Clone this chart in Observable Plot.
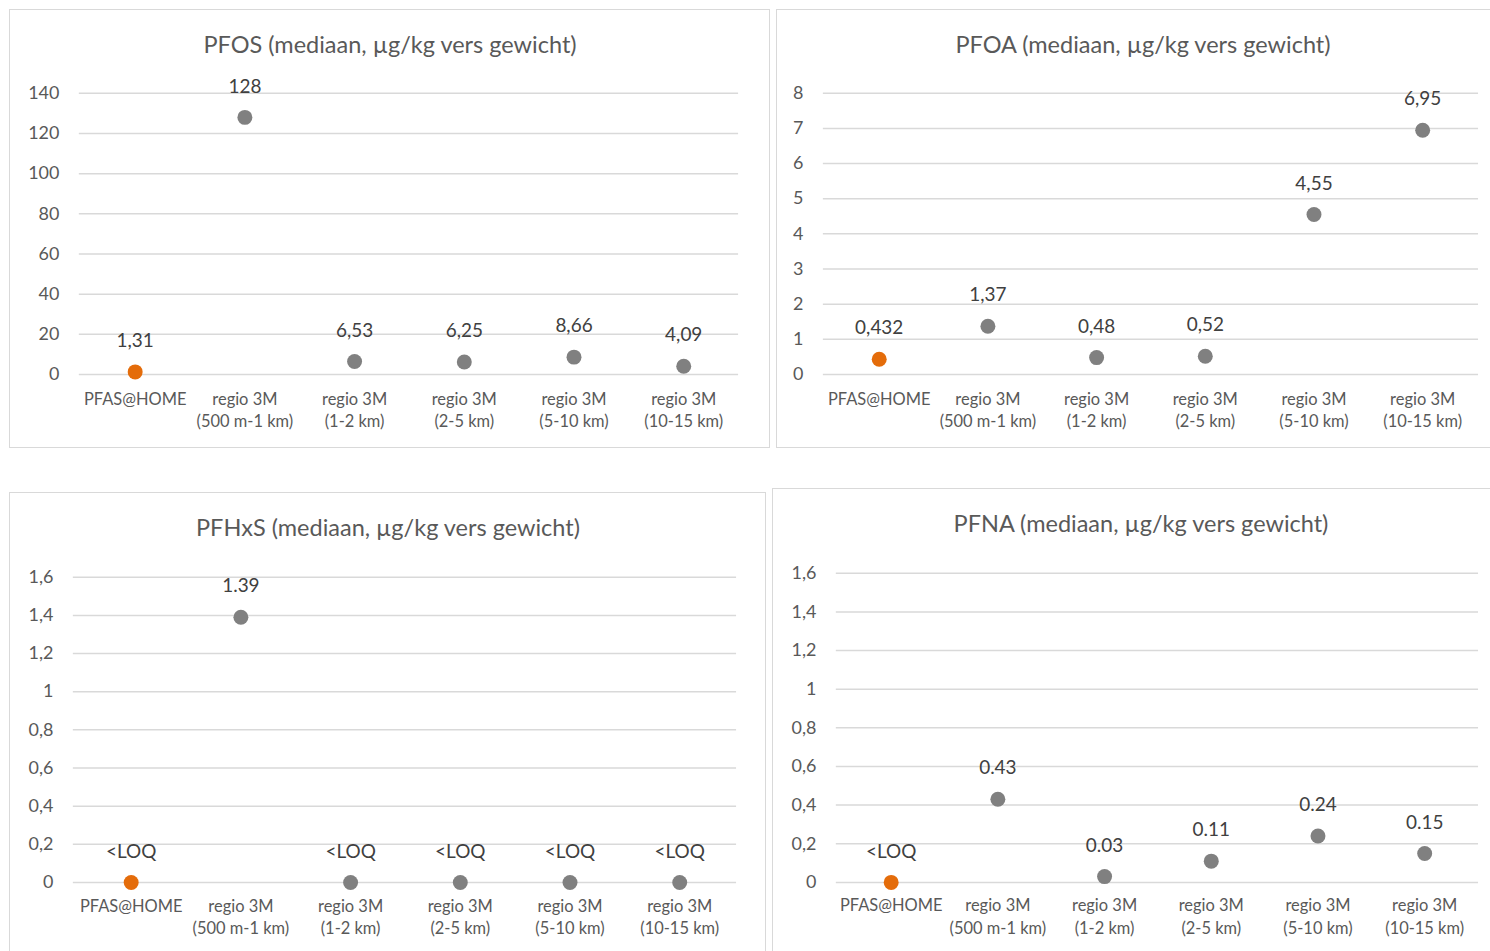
<!DOCTYPE html>
<html><head><meta charset="utf-8">
<script src="https://cdn.jsdelivr.net/npm/d3@7"></script>
<script src="https://cdn.jsdelivr.net/npm/@observablehq/plot@0.6"></script>
<style>
html,body{margin:0;padding:0;background:#fff;}
#root{position:relative;width:1490px;height:951px;overflow:hidden;font-family:Lato,"Open Sans",sans-serif;}
.panel{position:absolute;box-sizing:border-box;border:1.5px solid #d9d9d9;background:#fff;}
.panel svg{position:absolute;left:-1.5px;top:-1.5px;overflow:visible;}
.title{position:absolute;transform:translate(-50%,-50%);white-space:nowrap;font-size:23.5px;color:#595959;}
</style></head>
<body><div id="root"></div>
<script>
const categories = ["PFAS@HOME","regio 3M\n(500 m-1 km)","regio 3M\n(1-2 km)","regio 3M\n(2-5 km)","regio 3M\n(5-10 km)","regio 3M\n(10-15 km)"];

const pfosValues = [1.31, 128, 6.53, 6.25, 8.66, 4.09];
const pfosLabels = ["1,31","128","6,53","6,25","8,66","4,09"];
const pfosTicks = [0,20,40,60,80,100,120,140];

const pfoaValues = [0.432, 1.37, 0.48, 0.52, 4.55, 6.95];
const pfoaLabels = ["0,432","1,37","0,48","0,52","4,55","6,95"];
const pfoaTicks = [0,1,2,3,4,5,6,7,8];

const pfhxsValues = [0, 1.39, 0, 0, 0, 0];
const pfhxsLabels = ["<LOQ","1.39","<LOQ","<LOQ","<LOQ","<LOQ"];
const pfhxsTicks = [0,0.2,0.4,0.6,0.8,1,1.2,1.4,1.6];

const pfnaValues = [0, 0.43, 0.03, 0.11, 0.24, 0.15];
const pfnaLabels = ["<LOQ","0.43","0.03","0.11","0.24","0.15"];
const pfnaTicks = [0,0.2,0.4,0.6,0.8,1,1.2,1.4,1.6];

const panels = [
  {title:"PFOS (mediaan, µg/kg vers gewicht)", values:pfosValues, labels:pfosLabels, ticks:pfosTicks,
   left:9, top:9, w:761, h:439, mL:70, mR:30, mT:84, mB:73, tx:380, pad:14},
  {title:"PFOA (mediaan, µg/kg vers gewicht)", values:pfoaValues, labels:pfoaLabels, ticks:pfoaTicks,
   left:776, top:9, w:716, h:439, mL:47, mR:12, mT:84, mB:73, tx:366, pad:14},
  {title:"PFHxS (mediaan, µg/kg vers gewicht)", values:pfhxsValues, labels:pfhxsLabels, ticks:pfhxsTicks,
   left:9, top:492, w:757, h:462, mL:64, mR:28, mT:85, mB:71, tx:378, pad:13},
  {title:"PFNA (mediaan, µg/kg vers gewicht)", values:pfnaValues, labels:pfnaLabels, ticks:pfnaTicks,
   left:772, top:488, w:720, h:466, mL:64, mR:12, mT:85, mB:71, tx:368, pad:13}
];

const root = document.getElementById("root");
for (const p of panels) {
  const div = document.createElement("div");
  div.className = "panel";
  Object.assign(div.style, {left:p.left+"px", top:p.top+"px", width:p.w+"px", height:p.h+"px"});
  const rows = categories.map((c,i)=>({cat:c, value:p.values[i], label:p.labels[i], first:i===0}));
  const chart = Plot.plot({
    width:p.w, height:p.h,
    marginLeft:p.mL, marginRight:p.mR, marginTop:p.mT, marginBottom:p.mB,
    style:{fontFamily:"Lato, 'Open Sans', sans-serif", background:"transparent", overflow:"visible"},
    x:{type:"point", domain:categories, padding:0.5, label:null},
    y:{domain:[p.ticks[0], p.ticks[p.ticks.length-1]], label:null},
    marks:[
      Plot.gridY(p.ticks, {stroke:"#d9d9d9", strokeOpacity:1, strokeWidth:1.5}),
      Plot.axisY(p.ticks, {tickSize:0, tickPadding:20, fontSize:18, fill:"#595959", label:null,
        tickFormat:d=>String(d).replace(".", ",")}),
      Plot.axisX({tickSize:0, tickPadding:p.pad, fontSize:16.5, fill:"#595959", lineHeight:1.38, label:null}),
      Plot.dot(rows, {x:"cat", y:"value", r:7.5, fill:d=>d.first?"#E46C0A":"#808080", stroke:"none"}),
      Plot.text(rows, {x:"cat", y:"value", text:"label", dy:-31, fontSize:19, fill:"#404040"})
    ]
  });
  div.appendChild(chart);
  const t = document.createElement("div");
  t.className = "title";
  t.textContent = p.title;
  t.style.left = p.tx + "px";
  t.style.top = "34px";
  div.appendChild(t);
  root.appendChild(div);
}
</script></body></html>
